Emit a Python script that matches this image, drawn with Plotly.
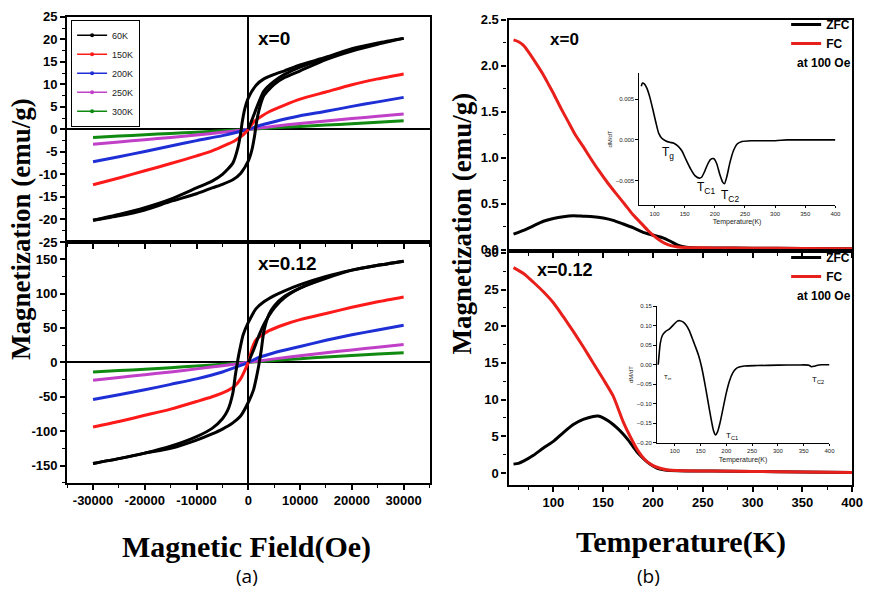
import plotly.graph_objects as go

W, H = 877, 596

# ---------------- (a) M-H loops ----------------
# x = 0
h60_0_desc = [30000, 25000, 20000, 15000, 10000, 7000, 5000, 3000, 1500, 0, -700, -1200, -1500, -2000, -3000, -5000, -7000, -10000, -15000, -20000, -25000, -30000]
m60_0_desc = [20.2, 19.2, 17.9, 16.0, 14.3, 13.0, 12.2, 11.2, 9.8, 7.0, 4.5, 1.5, -1.0, -4.0, -7.5, -10.0, -11.5, -13.0, -15.5, -17.4, -18.9, -20.2]
h60_0_asc = [-30000, -25000, -20000, -15000, -10000, -7000, -5000, -3000, -1500, 0, 700, 1200, 1500, 2000, 3000, 5000, 7000, 10000, 15000, 20000, 25000, 30000]
m60_0_asc = [-20.2, -19.2, -17.9, -16.0, -14.3, -13.0, -12.2, -11.2, -9.8, -7.0, -4.5, -1.5, 1.0, 4.0, 7.5, 10.0, 11.5, 13.0, 15.5, 17.4, 18.9, 20.2]
h60_0_vir = [0, 1000, 2000, 3000, 5000, 7000, 10000, 15000]
m60_0_vir = [0, 3.0, 6.0, 8.5, 10.7, 12.2, 13.8, 15.8]

h150_0 = [-30000, -25000, -20000, -15000, -10000, -7000, -4000, -2700, -1000, 0, 1000, 2700, 4000, 7000, 10000, 15000, 20000, 25000, 30000]
m150_0 = [-12.3, -10.8, -9.2, -7.6, -5.9, -4.8, -3.3, -2.6, -1.2, 0, 1.6, 3.0, 3.9, 5.4, 6.7, 8.3, 9.9, 11.2, 12.3]
h_grid = [-30000, -25000, -20000, -15000, -10000, -5000, -2000, 0, 2000, 5000, 10000, 15000, 20000, 25000, 30000]
m200_0 = [-7.2, -6.1, -4.9, -3.7, -2.5, -1.4, -0.6, 0, 0.8, 1.7, 3.0, 4.0, 5.1, 6.1, 7.1]
m250_0 = [-3.3, -2.8, -2.3, -1.8, -1.25, -0.65, -0.27, 0, 0.28, 0.68, 1.3, 1.85, 2.4, 2.9, 3.4]
m300_0 = [-1.8, -1.5, -1.2, -0.9, -0.62, -0.32, -0.13, 0, 0.13, 0.33, 0.65, 0.95, 1.25, 1.6, 1.9]

# x = 0.12
h60_12_desc = [30000, 25000, 20000, 15000, 10000, 7000, 5000, 3000, 1500, 0, -1000, -1500, -2000, -2500, -3000, -4000, -5000, -7000, -10000, -15000, -20000, -25000, -30000]
m60_12_desc = [147, 141, 134, 125, 113, 104, 97, 88, 78, 58, 40, 24, 5, -18, -45, -70, -82, -96, -108, -122, -132, -140, -147]
h60_12_asc = [-30000, -25000, -20000, -15000, -10000, -7000, -5000, -3000, -1500, 0, 1000, 1500, 2000, 2500, 3000, 4000, 5000, 7000, 10000, 15000, 20000, 25000, 30000]
m60_12_asc = [-147, -140, -132, -125, -113, -104, -97, -88, -78, -58, -40, -24, -5, 18, 45, 70, 82, 96, 108, 122, 134, 141, 147]
h60_12_vir = [0, 1000, 2000, 3000, 4000, 5000, 7000, 10000, 15000]
m60_12_vir = [0, 18, 38, 55, 68, 79, 94, 108, 124]

h150_12 = [-30000, -25000, -20000, -15000, -10000, -7000, -4000, -2700, -1500, -700, -300, 0, 300, 700, 1500, 2700, 4000, 7000, 10000, 15000, 20000, 25000, 30000]
m150_12 = [-94, -86, -77, -68, -57, -50, -41, -35, -24, -12, -5, 0, 8, 20, 33, 40, 46, 55, 62, 71, 80, 88, 95]
m200_12 = [-54, -47, -40, -32, -24, -14, -6, 0, 7, 14, 23, 32, 40, 47, 54]
m250_12 = [-26, -22, -18, -14, -9.5, -5, -2, 0, 2, 5, 9.5, 14, 18, 22, 26]
m300_12 = [-14, -12, -10, -7.8, -5.3, -2.8, -1.1, 0, 1.1, 2.8, 5.3, 7.8, 10, 12, 14]

temps = ["60K", "150K", "200K", "250K", "300K"]
tcolors = ["#000000", "#ff1a1a", "#1f2fd6", "#c040c8", "#108a10"]

# ---------------- (b) ZFC / FC ----------------
t0 = [60, 65, 70, 75, 83, 90, 95, 100, 108, 115, 122, 130, 137, 145, 155, 163, 172, 180, 188, 195, 200, 206, 212, 218, 225, 232, 240, 260, 300, 350, 400]
fc0 = [2.28, 2.26, 2.22, 2.15, 2.02, 1.9, 1.8, 1.7, 1.53, 1.39, 1.25, 1.12, 1.0, 0.87, 0.72, 0.61, 0.49, 0.38, 0.29, 0.21, 0.16, 0.11, 0.07, 0.045, 0.03, 0.025, 0.022, 0.02, 0.017, 0.014, 0.012]
t0z = [60, 65, 70, 80, 90, 100, 110, 120, 130, 140, 150, 160, 170, 180, 190, 200, 210, 218, 225, 232, 240, 260, 300, 350, 400]
zfc0 = [0.17, 0.19, 0.21, 0.26, 0.31, 0.34, 0.36, 0.37, 0.365, 0.36, 0.345, 0.32, 0.28, 0.24, 0.19, 0.16, 0.13, 0.09, 0.05, 0.03, 0.022, 0.02, 0.017, 0.014, 0.012]

t12 = [60, 70, 80, 90, 100, 110, 120, 130, 140, 150, 160, 170, 177, 185, 192, 200, 208, 215, 230, 260, 300, 350, 400]
fc12 = [28.0, 27.2, 26.0, 24.7, 23.2, 21.3, 19.3, 17.2, 15.0, 12.8, 10.5, 7.0, 5.0, 3.0, 1.8, 1.0, 0.6, 0.4, 0.3, 0.25, 0.2, 0.12, 0.05]
t12z = [60, 65, 70, 80, 90, 100, 110, 120, 130, 140, 145, 150, 155, 160, 165, 170, 175, 180, 185, 190, 195, 200, 205, 212, 225, 260, 300, 350, 400]
zfc12 = [1.2, 1.3, 1.6, 2.4, 3.4, 4.3, 5.5, 6.6, 7.3, 7.7, 7.75, 7.5, 7.1, 6.6, 6.0, 5.3, 4.5, 3.6, 2.7, 2.0, 1.4, 0.95, 0.6, 0.4, 0.3, 0.25, 0.2, 0.12, 0.05]

# insets dM/dT
ti0 = [78, 80, 83, 87, 92, 97, 102, 107, 112, 118, 125, 132, 138, 145, 152, 160, 167, 174, 178, 183, 188, 193, 198, 203, 208, 213, 216, 220, 225, 231, 237, 245, 260, 300, 320, 350, 380, 400]
di0 = [0.0066, 0.0070, 0.0069, 0.0064, 0.0053, 0.0038, 0.0022, 0.0008, 0.0002, -0.0001, -0.0003, -0.0004, -0.0007, -0.0013, -0.0024, -0.0036, -0.0044, -0.0047, -0.0046, -0.0039, -0.0030, -0.0024, -0.0023, -0.0029, -0.0042, -0.0052, -0.0054, -0.0045, -0.0028, -0.0013, -0.0005, -0.0002, -0.0001, -0.0001, 0.0, 0.0, 0.0, 0.0]
ti12 = [68, 70, 72, 76, 82, 90, 98, 105, 110, 116, 122, 128, 134, 140, 146, 152, 158, 164, 170, 175, 179, 183, 188, 194, 200, 206, 212, 218, 225, 235, 260, 300, 340, 360, 365, 370, 375, 385, 400]
di12 = [0.0, 0.03, 0.055, 0.075, 0.085, 0.092, 0.103, 0.112, 0.113, 0.11, 0.102, 0.088, 0.068, 0.047, 0.025, -0.005, -0.045, -0.09, -0.135, -0.168, -0.18, -0.172, -0.148, -0.11, -0.072, -0.042, -0.022, -0.011, -0.006, -0.003, -0.002, -0.001, -0.0005, -0.001, -0.005, -0.004, -0.002, 0.0, 0.0]

# tick labels
field_ticks = [-30000, -20000, -10000, 0, 10000, 20000, 30000]
field_labels = ["-30000", "-20000", "-10000", "0", "10000", "20000", "30000"]
m0_ticks = [-25, -20, -15, -10, -5, 0, 5, 10, 15, 20, 25]
m0_labels = ["-25", "-20", "-15", "-10", "-5", "0", "5", "10", "15", "20", "25"]
m12_ticks = [-150, -100, -50, 0, 50, 100, 150]
m12_labels = ["-150", "-100", "-50", "0", "50", "100", "150"]
temp_ticks = [100, 150, 200, 250, 300, 350, 400]
temp_labels = ["100", "150", "200", "250", "300", "350", "400"]
mt0_ticks = [0.0, 0.5, 1.0, 1.5, 2.0, 2.5]
mt0_labels = ["0.0", "0.5", "1.0", "1.5", "2.0", "2.5"]
mt12_ticks = [0, 5, 10, 15, 20, 25, 30]
mt12_labels = ["0", "5", "10", "15", "20", "25", "30"]


def join(*segs):
    xs, ys = [], []
    for sx, sy in segs:
        if xs:
            xs.append(None)
            ys.append(None)
        xs += list(sx)
        ys += list(sy)
    return xs, ys


fig = go.Figure()


def line(x, y, xa, ya, color, width=3, name=None, legend=None, showlegend=False):
    fig.add_trace(go.Scatter(
        x=x, y=y, xaxis=xa, yaxis=ya, mode="lines", name=name,
        line=dict(color=color, width=width, shape="spline", smoothing=0.6),
        showlegend=showlegend, legend=legend, connectgaps=False, hoverinfo="skip"))


# (a) top: x=0
line(h_grid, m300_0, "x", "y", tcolors[4])
line(h_grid, m250_0, "x", "y", tcolors[3])
line(h_grid, m200_0, "x", "y", tcolors[2])
line(h150_0, m150_0, "x", "y", tcolors[1])
xs, ys = join((h60_0_desc, m60_0_desc), (h60_0_asc, m60_0_asc), (h60_0_vir, m60_0_vir))
line(xs, ys, "x", "y", tcolors[0])
# (a) bottom: x=0.12
line(h_grid, m300_12, "x2", "y2", tcolors[4])
line(h_grid, m250_12, "x2", "y2", tcolors[3])
line(h_grid, m200_12, "x2", "y2", tcolors[2])
line(h150_12, m150_12, "x2", "y2", tcolors[1])
xs, ys = join((h60_12_desc, m60_12_desc), (h60_12_asc, m60_12_asc), (h60_12_vir, m60_12_vir))
line(xs, ys, "x2", "y2", tcolors[0])

# legend entries for (a)
for name, c in zip(temps, tcolors):
    fig.add_trace(go.Scatter(x=[None], y=[None], xaxis="x", yaxis="y", mode="lines+markers",
                             name=name, line=dict(color=c, width=1.5),
                             marker=dict(color=c, size=4), legend="legend", showlegend=True))

# (b)
line(t0z, zfc0, "x3", "y3", "black", name="ZFC", legend="legend2", showlegend=True)
line(t0, fc0, "x3", "y3", "#e8201c", name="FC", legend="legend2", showlegend=True)
line(t12z, zfc12, "x4", "y4", "black", name="ZFC", legend="legend3", showlegend=True)
line(t12, fc12, "x4", "y4", "#e8201c", name="FC", legend="legend3", showlegend=True)
# insets
line(ti0, di0, "x5", "y5", "black", width=1.6)
line(ti12, di12, "x6", "y6", "black", width=1.6)


def px_x(p):
    return p / W


def px_y(p):
    return 1 - p / H


def bold(labels):
    return ["<b>%s</b>" % s for s in labels]


tickfont = dict(family="Liberation Sans", size=13, color="black")
minor_style = dict(ticks="outside", ticklen=3, tickcolor="black", tickwidth=1.2)


def main_axis(**kw):
    d = dict(showline=True, linecolor="black", linewidth=2.2, mirror=True, ticks="outside",
             ticklen=5, tickwidth=1.5, tickcolor="black", showgrid=False, zeroline=False,
             tickfont=tickfont)
    d.update(kw)
    return d


def inset_axis(**kw):
    d = dict(showline=True, linecolor="black", linewidth=1, mirror=False, ticks="outside",
             ticklen=2.5, tickwidth=0.8, tickcolor="black", showgrid=False, zeroline=False,
             tickfont=dict(family="Liberation Sans", size=6, color="#222"))
    d.update(kw)
    return d


dL = [px_x(68), px_x(435)]
dR = [px_x(515), px_x(863)]

fig.update_layout(
    width=W, height=H, margin=dict(l=0, r=0, t=0, b=0),
    paper_bgcolor="white", plot_bgcolor="rgba(0,0,0,0)",
    xaxis=main_axis(domain=dL, anchor="y", range=[-35000, 35000], tickvals=field_ticks,
                    showticklabels=False, zeroline=True, zerolinecolor="black", zerolinewidth=2,
                    minor=dict(minor_style, dtick=5000, tick0=-35000)),
    yaxis=main_axis(domain=[px_y(241), px_y(10)], anchor="x", range=[-25, 25],
                    tickvals=m0_ticks, ticktext=bold(m0_labels),
                    zeroline=True, zerolinecolor="black", zerolinewidth=2,
                    minor=dict(minor_style, dtick=2.5, tick0=0)),
    xaxis2=main_axis(domain=dL, anchor="y2", range=[-35000, 35000],
                     tickvals=field_ticks, ticktext=bold(field_labels),
                     zeroline=True, zerolinecolor="black", zerolinewidth=2,
                     minor=dict(minor_style, dtick=5000, tick0=-35000)),
    yaxis2=main_axis(domain=[px_y(488), px_y(241)], anchor="x2", range=[-175, 175],
                     tickvals=m12_ticks, ticktext=bold(m12_labels),
                     zeroline=True, zerolinecolor="black", zerolinewidth=2,
                     minor=dict(minor_style, dtick=25, tick0=0)),
    xaxis3=main_axis(domain=dR, anchor="y3", range=[55, 400], tickvals=temp_ticks,
                     showticklabels=False,
                     minor=dict(minor_style, dtick=25, tick0=0)),
    yaxis3=main_axis(domain=[px_y(250), px_y(13)], anchor="x3", range=[-0.01, 2.5],
                     tickvals=mt0_ticks, ticktext=bold(mt0_labels),
                     minor=dict(minor_style, dtick=0.25, tick0=0)),
    xaxis4=main_axis(domain=dR, anchor="y4", range=[55, 400],
                     tickvals=temp_ticks, ticktext=bold(temp_labels),
                     minor=dict(minor_style, dtick=25, tick0=0)),
    yaxis4=main_axis(domain=[px_y(490), px_y(250)], anchor="x4", range=[-1.6, 30.3],
                     tickvals=mt12_ticks, ticktext=bold(mt12_labels),
                     minor=dict(minor_style, dtick=2.5, tick0=0)),
    xaxis5=inset_axis(domain=[px_x(647), px_x(846)], anchor="y5", range=[74, 400],
                      tickvals=temp_ticks,
                      title=dict(text="Temperature(K)", font=dict(family="Liberation Sans", size=7, color="#222"), standoff=3)),
    yaxis5=inset_axis(domain=[px_y(203), px_y(68)], anchor="x5", range=[-0.008, 0.0082],
                      tickvals=[-0.005, 0.0, 0.005], tickformat=".3f",
                      title=dict(text="dM/dT", font=dict(family="Liberation Sans", size=6, color="#222"), standoff=2)),
    xaxis6=inset_axis(domain=[px_x(665), px_x(840)], anchor="y6", range=[65, 400],
                      tickvals=temp_ticks,
                      title=dict(text="Temperature(K)", font=dict(family="Liberation Sans", size=7, color="#222"), standoff=3)),
    yaxis6=inset_axis(domain=[px_y(447), px_y(307)], anchor="x6", range=[-0.2, 0.15],
                      tickvals=[-0.2, -0.15, -0.1, -0.05, 0.0, 0.05, 0.1, 0.15], tickformat=".2f",
                      title=dict(text="dM/dT", font=dict(family="Liberation Sans", size=6, color="#222"), standoff=2)),
    legend=dict(x=px_x(72), y=px_y(13), xanchor="left", yanchor="top", bordercolor="black",
                borderwidth=1, bgcolor="white", itemwidth=30, tracegroupgap=0,
                font=dict(family="Liberation Sans", size=9, color="#222")),
    legend2=dict(x=px_x(866), y=px_y(3), xanchor="right", yanchor="top", bgcolor="rgba(0,0,0,0)",
                 itemwidth=30, tracegroupgap=0,
                 font=dict(family="Liberation Sans", size=12, color="black", weight="bold")),
    legend3=dict(x=px_x(866), y=px_y(242), xanchor="right", yanchor="top", bgcolor="rgba(0,0,0,0)",
                 itemwidth=30, tracegroupgap=0,
                 font=dict(family="Liberation Sans", size=12, color="black", weight="bold")),
)

sansb = dict(family="Liberation Sans", color="black", weight="bold")


def ann(text, x, y, font, angle=0, xanchor="center", yanchor="middle"):
    fig.add_annotation(text=text, x=px_x(x), y=px_y(y), xref="paper", yref="paper",
                       showarrow=False, font=font, textangle=angle, xanchor=xanchor, yanchor=yanchor)


ytitle = dict(family="Liberation Serif", size=27, color="black", weight="bold")
xtitle = dict(family="Liberation Serif", size=30, color="black", weight="bold")
ann("Magnetization (emu/g)", 22, 228, ytitle, angle=-90)
ann("Magnetization (emu/g)", 468, 222, ytitle, angle=-90)
ann("Magnetic Field(Oe)", 250, 554, xtitle)
ann("Temperature(K)", 690, 549, xtitle)
ann("(a)", 250, 584, dict(family="Open Sans", size=19, color="black"))
ann("(b)", 657, 584, dict(family="Open Sans", size=19, color="black"))
ann("x=0", 277, 32, dict(sansb, size=19))
ann("x=0.12", 291, 263, dict(sansb, size=19))
ann("x=0", 572, 33, dict(sansb, size=17))
ann("x=0.12", 572, 270, dict(sansb, size=18))
ann("at 100 Oe", 834, 57, dict(sansb, size=12))
ann("at 100 Oe", 834, 296, dict(sansb, size=12))
ann("T<sub>g</sub>", 676, 150, dict(family="Liberation Sans", size=12, color="black"))
ann("T<sub>C1</sub>", 715, 186, dict(family="Liberation Sans", size=12, color="black"))
ann("T<sub>C2</sub>", 739, 194, dict(family="Liberation Sans", size=12, color="black"))
ann("T<sub>C1</sub>", 741, 440, dict(family="Liberation Sans", size=8, color="black"))
ann("T<sub>C2</sub>", 828, 383, dict(family="Liberation Sans", size=8, color="black"))
ann("T<sub>irr</sub>", 676, 380, dict(family="Liberation Sans", size=6, color="black"))

fig.write_html("out.html")
